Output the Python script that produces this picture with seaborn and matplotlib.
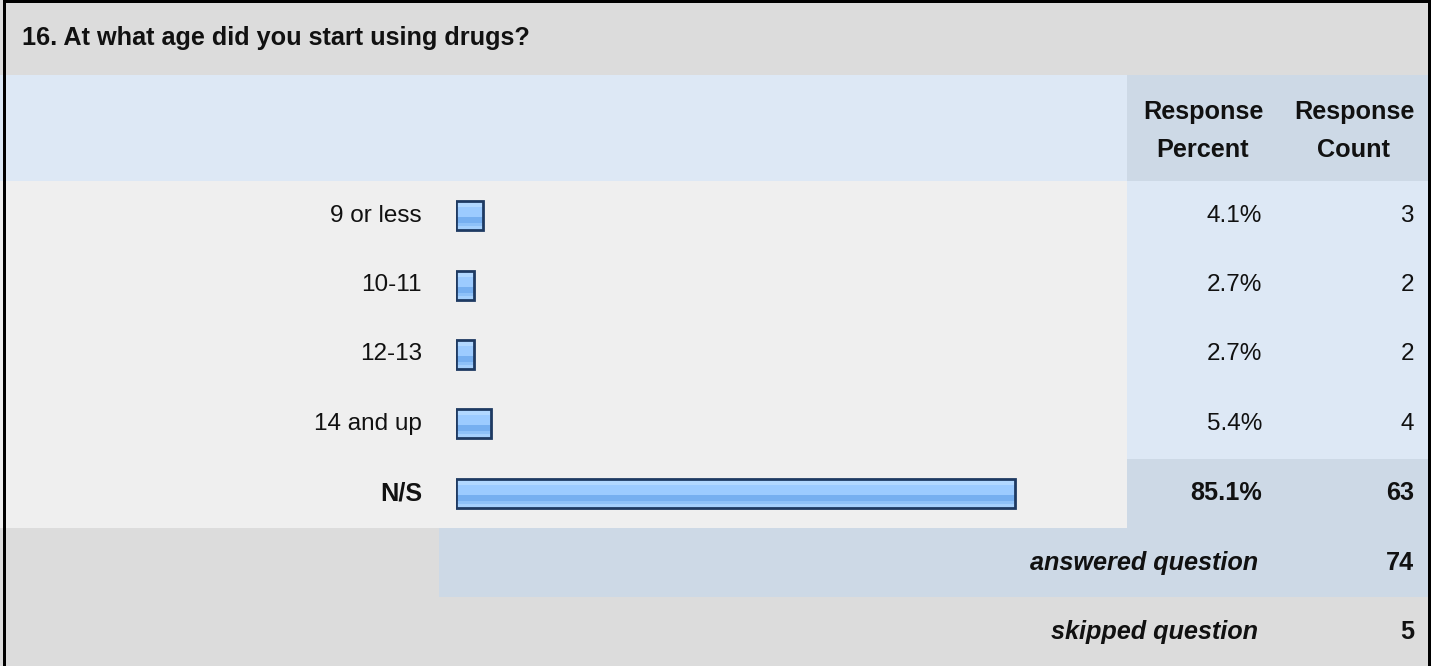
import numpy as np
import matplotlib
matplotlib.use('Agg')
import matplotlib.pyplot as plt
from matplotlib.patches import Rectangle
import seaborn as sns

# Survey data
question = '16. At what age did you start using drugs?'
categories = ['9 or less', '10-11', '12-13', '14 and up', 'N/S']
percents = [4.1, 2.7, 2.7, 5.4, 85.1]
counts = [3, 2, 2, 4, 63]
answered = 74
skipped = 5

sns.set_theme(style='white')
plt.rcParams['font.family'] = ['Liberation Sans', 'DejaVu Sans']

W, H = 1434, 666
fig = plt.figure(figsize=(W / 100, H / 100), dpi=100)
bg = fig.add_axes([0, 0, 1, 1])
bg.set_xlim(0, W)
bg.set_ylim(H, 0)
bg.axis('off')

GRAY = '#dcdcdc'
LIGHT = '#dde8f5'
DARK = '#cdd9e6'
ROWBG = '#efefef'
TXT = '#111111'
FS = 17.5   # regular text
FSB = 18.2  # bold text

def box(x0, y0, x1, y1, c):
    bg.add_patch(Rectangle((x0, y0), x1 - x0, y1 - y0, facecolor=c, edgecolor='none', zorder=1))

# table layout (pixels)
top_h = 75
hdr_b = 181
row_h = 69.4
data_b = hdr_b + row_h * len(categories)
col_split = 1127
right = 1428

box(0, 0, W, H, 'white')
box(0, 0, right, top_h, GRAY)
box(0, top_h, col_split, hdr_b, LIGHT)
box(col_split, top_h, right, hdr_b, DARK)
for i, cat in enumerate(categories):
    y0 = hdr_b + i * row_h
    box(0, y0, col_split, y0 + row_h, ROWBG)
    box(col_split, y0, right, y0 + row_h, DARK if cat == 'N/S' else LIGHT)
box(0, data_b, 439, data_b + row_h, GRAY)
box(439, data_b, right, data_b + row_h, DARK)
box(0, data_b + row_h, right, H, GRAY)

# outer border
box(3, 0, 6, H, 'black')
box(3, 0, 1431, 3, 'black')
box(1428, 0, 1431, H, 'black')

bg.text(22, 38, question, fontsize=FSB, fontweight='bold', color=TXT, va='center', ha='left', zorder=5)
for cx, word2 in [(1203, 'Percent'), (1354, 'Count')]:
    bg.text(cx, 112, 'Response', fontsize=FSB, fontweight='bold', color=TXT, ha='center', va='center', zorder=5)
    bg.text(cx, 150, word2, fontsize=FSB, fontweight='bold', color=TXT, ha='center', va='center', zorder=5)

for i, (cat, p, n) in enumerate(zip(categories, percents, counts)):
    yc = hdr_b + (i + 0.5) * row_h
    bold = cat == 'N/S'
    w = 'bold' if bold else 'normal'
    fs = FSB if bold else FS
    bg.text(422, yc, cat, fontsize=fs, fontweight=w, color=TXT, ha='right', va='center', zorder=5)
    bg.text(1262, yc, f'{p:.1f}%', fontsize=fs, fontweight=w, color=TXT, ha='right', va='center', zorder=5)
    bg.text(1414, yc, str(n), fontsize=fs, fontweight=w, color=TXT, ha='right', va='center', zorder=5)

ya = data_b + row_h / 2
ys = data_b + row_h * 1.5
bg.text(1258, ya, 'answered question', fontsize=FSB, fontweight='bold', style='italic', color=TXT, ha='right', va='center', zorder=5)
bg.text(1414, ya, str(answered), fontsize=FSB, fontweight='bold', color=TXT, ha='right', va='center', zorder=5)
bg.text(1258, ys, 'skipped question', fontsize=FSB, fontweight='bold', style='italic', color=TXT, ha='right', va='center', zorder=5)
bg.text(1414, ys, str(skipped), fontsize=FSB, fontweight='bold', color=TXT, ha='right', va='center', zorder=5)

# bar area
bx0, bx1 = 456, col_split
bax = fig.add_axes([bx0 / W, (H - data_b) / H, (bx1 - bx0) / W, (data_b - hdr_b) / H])
bax.patch.set_alpha(0)
sns.barplot(x=percents, y=categories, orient='h', ax=bax, width=0.42,
            color='#99ccff', edgecolor='#1e3a62', linewidth=2)
bax.axis('off')

stripes = ['#d2e9ff'] * 2 + ['#b2d8ff'] * 4 + ['#9ccbff'] * 8 + ['#76aff0'] * 5 + ['#8ec1f8'] * 3 + ['#a5d0fd'] * 3
grad = np.array([[matplotlib.colors.to_rgb(c)] for c in stripes])
for patch in bax.patches:
    x0, y0 = patch.get_x(), patch.get_y()
    pw, ph = patch.get_width(), patch.get_height()
    im = bax.imshow(grad, extent=(x0, x0 + pw, y0 + ph, y0), origin='upper',
                    aspect='auto', interpolation='nearest', zorder=2)
    im.set_clip_path(patch)
    patch.set_facecolor('none')
    patch.set_zorder(3)

bax.set_xlim(0, (bx1 - bx0) / 6.57)
bax.set_ylim(len(categories) - 0.5, -0.5)

fig.savefig('out.png', dpi=100)
